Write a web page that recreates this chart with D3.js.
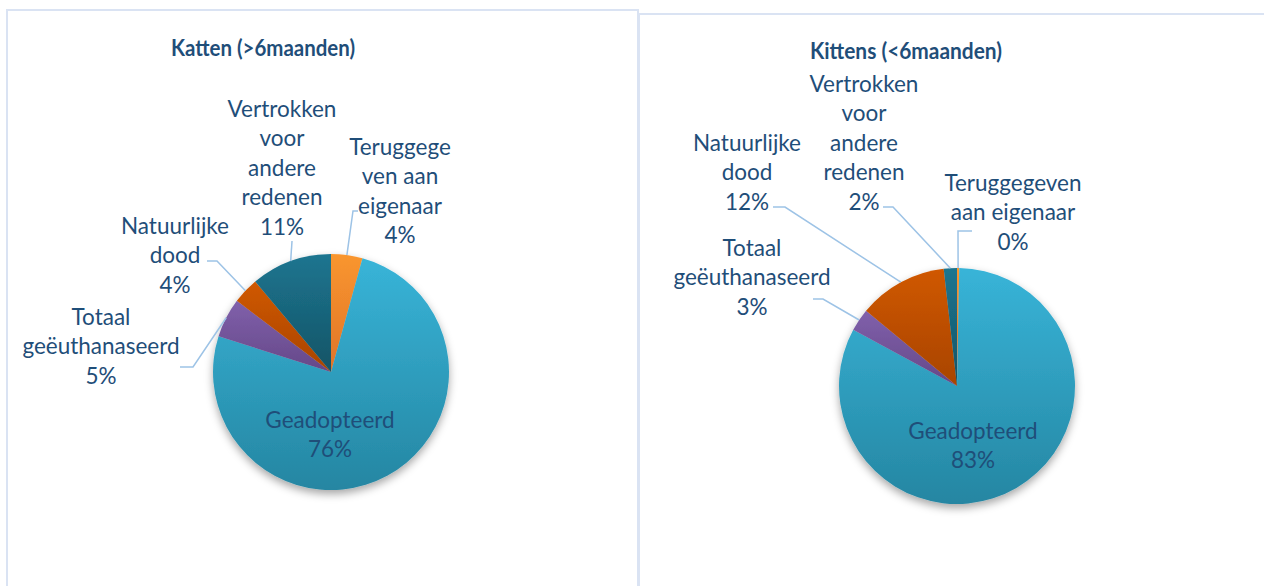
<!DOCTYPE html>
<html>
<head>
<meta charset="utf-8">
<script src="https://cdn.jsdelivr.net/npm/d3@7"></script>
<style>
  body { margin: 0; background: #fff; }
  svg { display: block; }
</style>
</head>
<body>
<svg width="1264" height="586"></svg>
<script>
// data
var categories = ["Teruggegeven aan eigenaar", "Geadopteerd", "Totaal geëuthanaseerd", "Natuurlijke dood", "Vertrokken voor andere redenen"];
var kattenValues = [4.3, 75.6, 5.4, 3.6, 11.1];
var kittensValues = [0.3, 82.6, 3.1, 12.2, 1.8];
var titles = ["Katten (>6maanden)", "Kittens (<6maanden)"];
// label lines as they wrap in the picture
var kattenLabels = [["Teruggege", "ven aan", "eigenaar"], ["Geadopteerd"], ["Totaal", "geëuthanaseerd"], ["Natuurlijke", "dood"], ["Vertrokken", "voor", "andere", "redenen"]];
var kittensLabels = [["Teruggegeven", "aan eigenaar"], ["Geadopteerd"], ["Totaal", "geëuthanaseerd"], ["Natuurlijke", "dood"], ["Vertrokken", "voor", "andere", "redenen"]];

var colors = [["#f9962f", "#e07428"], ["#38b4d8", "#2586a2"], ["#8060ab", "#654888"], ["#d05800", "#a84400"], ["#1d7590", "#145466"]];

var svg = d3.select("svg");
var defs = svg.append("defs");

colors.forEach(function(c, i) {
    var lg = defs.append("linearGradient").attr("id", "grad" + i)
        .attr("x1", 0).attr("y1", 0).attr("x2", 0).attr("y2", 1);
    lg.append("stop").attr("offset", "0%").attr("stop-color", c[0]);
    lg.append("stop").attr("offset", "100%").attr("stop-color", c[1]);
});

var shadow = defs.append("filter").attr("id", "shadow")
    .attr("x", "-20%").attr("y", "-20%").attr("width", "140%").attr("height", "140%");
shadow.append("feDropShadow").attr("dx", 0).attr("dy", 4).attr("stdDeviation", 4)
    .attr("flood-color", "#000").attr("flood-opacity", 0.35);

// panel borders
svg.append("rect").attr("x", 7).attr("y", 10).attr("width", 631).attr("height", 600)
    .attr("fill", "none").attr("stroke", "#dae3f3").attr("stroke-width", 2);
svg.append("rect").attr("x", 639).attr("y", 14).attr("width", 640).attr("height", 600)
    .attr("fill", "none").attr("stroke", "#dae3f3").attr("stroke-width", 2);

var textColor = "#1f4e79";
var lineColor = "#9dc3e6";

// layout of each chart: centre, radius, title, label spots and leader bends
var charts = [
    {
        values: kattenValues, labels: kattenLabels, title: titles[0],
        cx: 331, cy: 372, r: 118, titleX: 263, titleY: 56, titleW: 184,
        spots: [
            {x: 400, y: 147, bend: [353, 211], end: [358, 211]},
            {x: 330, y: 420},
            {x: 101, y: 317, bend: [193, 367], end: [180, 367]},
            {x: 175, y: 226, bend: [217, 261], end: [207, 261]},
            {x: 282, y: 109, bend: [292, 241], end: [292, 241]}
        ]
    },
    {
        values: kittensValues, labels: kittensLabels, title: titles[1],
        cx: 957, cy: 386, r: 118, titleX: 906, titleY: 59, titleW: 192,
        spots: [
            {x: 1013, y: 183, bend: [958, 231], end: [972, 231]},
            {x: 973, y: 431},
            {x: 752, y: 248, bend: [823, 299], end: [813, 299]},
            {x: 747, y: 143, bend: [785, 207], end: [773, 207]},
            {x: 864, y: 84, bend: [893, 207], end: [883, 207]}
        ]
    }
];

var pie = d3.pie().sort(null).value(function(d) { return d; });

charts.forEach(function(ch) {
    var total = d3.sum(ch.values);
    var arcs = pie(ch.values);
    var arc = d3.arc().innerRadius(0).outerRadius(ch.r);
    var edge = d3.arc().innerRadius(ch.r).outerRadius(ch.r);

    svg.append("text")
        .attr("x", ch.titleX).attr("y", ch.titleY)
        .attr("text-anchor", "middle")
        .attr("textLength", ch.titleW)
        .attr("lengthAdjust", "spacingAndGlyphs")
        .style("font-family", "Lato, 'Open Sans', sans-serif")
        .style("font-weight", "bold")
        .style("font-size", "22.5px")
        .style("fill", textColor)
        .text(ch.title);

    var g = svg.append("g").attr("transform", "translate(" + ch.cx + "," + ch.cy + ")");

    g.append("g").attr("filter", "url(#shadow)")
        .selectAll("path")
        .data(arcs)
        .enter()
        .append("path")
        .attr("d", arc)
        .style("fill", function(d, i) { return "url(#grad" + i + ")"; });

    // leader lines
    arcs.forEach(function(d, i) {
        var s = ch.spots[i];
        if (!s.bend) return;
        var a = edge.centroid(d);
        var pts = [[ch.cx + a[0], ch.cy + a[1]], s.bend, s.end];
        svg.append("path")
            .attr("d", d3.line()(pts))
            .style("fill", "none")
            .style("stroke", lineColor)
            .style("stroke-width", 1.5);
    });

    // labels
    arcs.forEach(function(d, i) {
        var s = ch.spots[i];
        var lines = ch.labels[i].concat([Math.round(d.value / total * 100) + "%"]);
        var t = svg.append("text")
            .attr("text-anchor", "middle")
            .style("font-family", "Lato, 'Open Sans', sans-serif")
            .style("font-size", "22.5px")
            .style("fill", textColor);
        lines.forEach(function(l, k) {
            t.append("tspan").attr("x", s.x).attr("y", s.y + 7.5 + k * 29.5).text(l);
        });
    });
});
</script>
</body>
</html>
